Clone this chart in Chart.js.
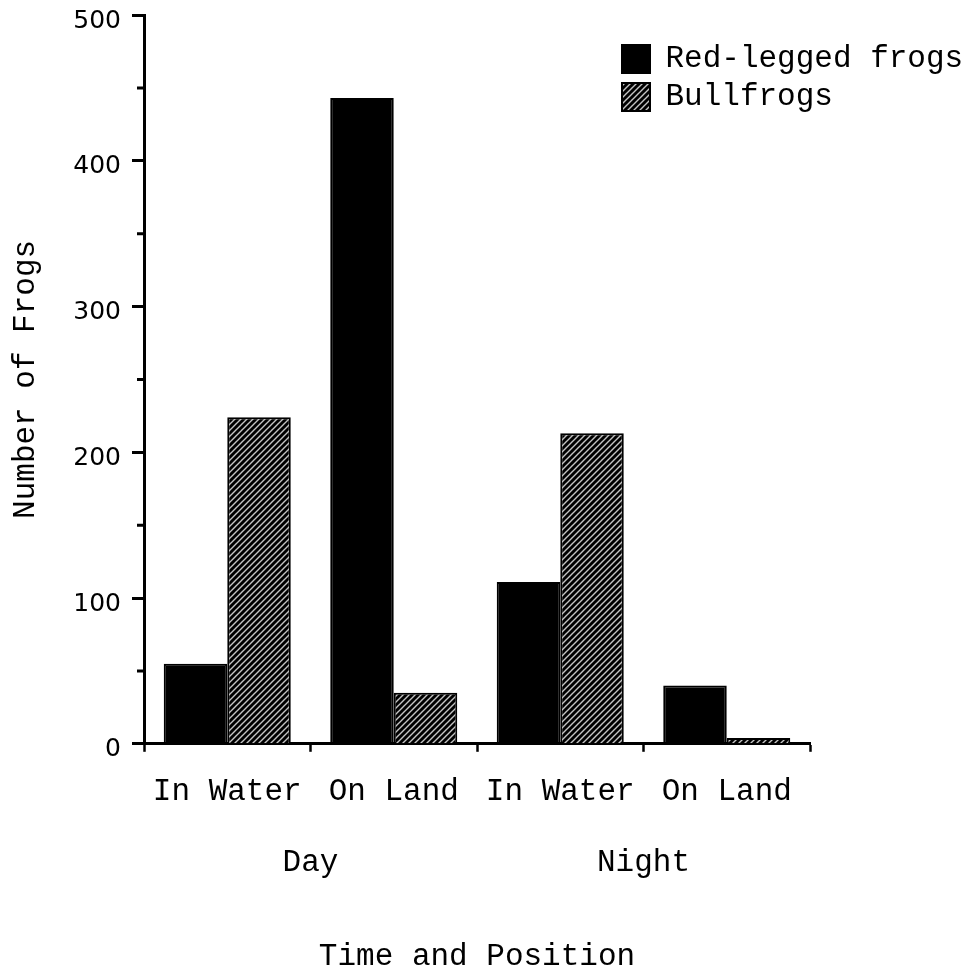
<!DOCTYPE html>
<html>
<head>
<meta charset="utf-8">
<style>
  html, body { margin: 0; padding: 0; background: #fff; }
  canvas { display: block; }
</style>
<script src="https://cdn.jsdelivr.net/npm/chart.js@4.4.1/dist/chart.umd.min.js"></script>
</head>
<body>
<canvas id="frogs" width="977" height="972"></canvas>
<script>
// Frog counts by time of day and position
const positions = ['In Water', 'On Land', 'In Water', 'On Land'];
const periods = ['Day', 'Night'];
const redLegged = [55, 443, 111, 40];
const bullfrogs = [224, 35, 213, 4];
const yMin = 0;
const yMax = 500;
const majorStep = 100;
const minorTicks = [50, 150, 250, 350, 450];

const MONO = "'Liberation Mono', 'Courier New', monospace";
const SANS = "'DejaVu Sans', sans-serif";

const canvas = document.getElementById('frogs');
const ctx = canvas.getContext('2d');

// Diagonal hatch fill for the bullfrog bars
function makeHatch() {
  const s = 6;
  const tile = document.createElement('canvas');
  tile.width = s; tile.height = s;
  const g = tile.getContext('2d');
  g.fillStyle = '#000';
  g.fillRect(0, 0, s, s);
  g.strokeStyle = '#c4c4c4';
  g.lineWidth = 1.4;
  g.beginPath();
  g.moveTo(0, s); g.lineTo(s, 0);
  g.moveTo(-s / 2, s / 2); g.lineTo(s / 2, -s / 2);
  g.moveTo(s / 2, s * 1.5); g.lineTo(s * 1.5, s / 2);
  g.stroke();
  return ctx.createPattern(tile, 'repeat');
}
const hatch = makeHatch();

// Put the legend block in the upper right corner
const legendPlacement = {
  id: 'legendPlacement',
  afterLayout(chart) {
    const lg = chart.legend;
    if (!lg) return;
    const pad = lg.options.labels.padding;
    const boxLeft = 622, boxTop = 45;
    const w = lg.width, h = 200;
    lg.left = boxLeft - pad;
    lg.right = lg.left + w;
    lg.top = boxTop - 1.5 - pad;
    lg.bottom = lg.top + h;
  }
};

// Short unlabelled ticks halfway between the numbered ones
const minorTickMarks = {
  id: 'minorTickMarks',
  afterDraw(chart) {
    const y = chart.scales.y;
    const x0 = chart.chartArea.left;
    const c = chart.ctx;
    c.save();
    c.strokeStyle = '#000';
    c.lineWidth = 3;
    c.beginPath();
    for (const v of minorTicks) {
      const py = y.getPixelForValue(v);
      c.moveTo(x0 - 7, py);
      c.lineTo(x0, py);
    }
    c.stroke();
    c.restore();
  }
};

new Chart(ctx, {
  type: 'bar',
  data: {
    labels: positions,
    datasets: [
      { label: 'Red-legged frogs', data: redLegged, backgroundColor: '#000', borderColor: '#000', borderWidth: 2 },
      { label: 'Bullfrogs', data: bullfrogs, backgroundColor: hatch, borderColor: '#000', borderWidth: 2 }
    ]
  },
  options: {
    responsive: false,
    animation: false,
    devicePixelRatio: 1,
    layout: { padding: { left: 0, right: 167, top: 15, bottom: 0 } },
    datasets: { bar: { categoryPercentage: 0.763, barPercentage: 1 } },
    plugins: {
      legend: {
        position: 'chartArea',
        align: 'start',
        labels: {
          font: { family: MONO, size: 31 },
          color: '#000',
          boxWidth: 28,
          boxHeight: 28,
          padding: 7
        }
      },
      tooltip: { enabled: false }
    },
    scales: {
      x: {
        type: 'category',
        position: 'bottom',
        weight: 0,
        offset: true,
        grid: { display: true, offset: true, drawOnChartArea: false, drawTicks: true, tickLength: 8, tickColor: '#000', tickWidth: 2.5 },
        border: { display: true, color: '#000', width: 3 },
        ticks: { font: { family: MONO, size: 31 }, color: '#000', padding: 21, maxRotation: 0, autoSkip: false }
      },
      x2: {
        type: 'category',
        labels: periods,
        position: 'bottom',
        weight: 1,
        offset: true,
        grid: { display: false, drawTicks: false },
        border: { display: false },
        ticks: { font: { family: MONO, size: 31 }, color: '#000', padding: 13.4, maxRotation: 0, autoSkip: false },
        title: {
          display: true,
          text: 'Time and Position',
          font: { family: MONO, size: 31, lineHeight: 1 },
          color: '#000',
          padding: { top: 46, bottom: 0 }
        }
      },
      y: {
        position: 'left',
        min: yMin,
        max: yMax,
        afterFit: (s) => { s.width = 144; s.paddingTop = 0; s.paddingBottom = 0; },
        grid: { display: true, drawOnChartArea: false, drawTicks: true, tickLength: 12, tickColor: '#000', tickWidth: 3 },
        border: { display: true, color: '#000', width: 3 },
        ticks: { stepSize: majorStep, font: { family: SANS, size: 25 }, color: '#000', padding: 11, labelOffset: 6 },
        title: {
          display: true,
          text: 'Number of Frogs',
          font: { family: MONO, size: 31 },
          color: '#000',
          padding: { top: 7, bottom: 0 }
        }
      }
    }
  },
  plugins: [legendPlacement, minorTickMarks]
});
</script>
</body>
</html>
